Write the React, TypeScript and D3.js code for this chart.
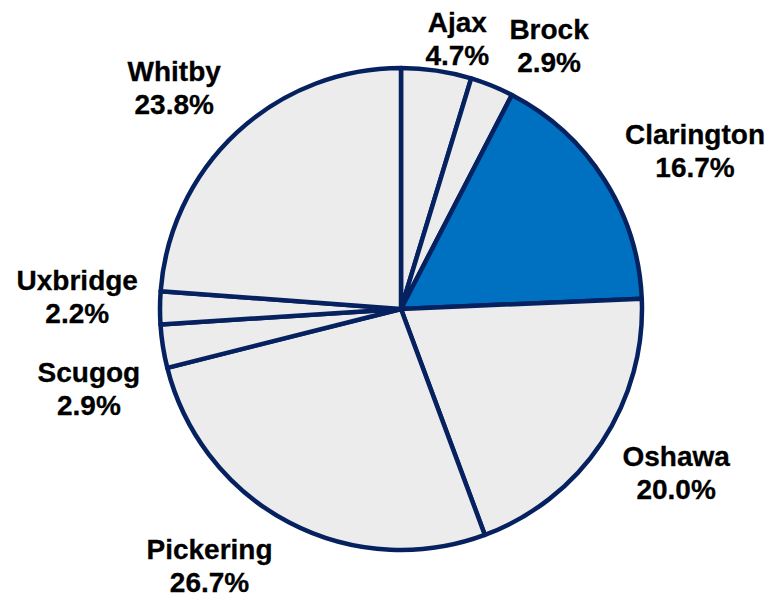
import * as d3 from "d3";
import * as React from "react";

const towns = ["Ajax", "Brock", "Clarington", "Oshawa", "Pickering", "Scugog", "Uxbridge", "Whitby"];
const shares = [4.7, 2.9, 16.7, 20.0, 26.7, 2.9, 2.2, 23.8];
const highlighted = "Clarington";

// label placement (distance from centre, angle nudge in degrees), like Excel's best fit
const labelRadius = [276, 302, 334, 320, 320, 322, 324, 317];
const labelNudge = [3.3, 7.2, 4.2, -2.9, 9.0, -5.3, 1.9, -2.8];

interface Slice {
  town: string;
  share: number;
}

export default function App() {
  const width = 773;
  const height = 597;
  const cx = 401;
  const cy = 309;
  const radius = 241;
  const lineGap = 33;

  const data: Slice[] = towns.map((town, i) => ({ town, share: shares[i] }));

  const pie = d3
    .pie<Slice>()
    .value((d) => d.share)
    .sort(null);
  const arcs = pie(data);

  const arc = d3.arc<d3.PieArcDatum<Slice>>().innerRadius(0).outerRadius(radius);

  return (
    <svg
      width={width}
      height={height}
      viewBox={`0 0 ${width} ${height}`}
      style={{ position: "absolute", left: 0, top: 0, background: "#fff" }}
    >
      <g transform={`translate(${cx},${cy})`}>
        {arcs.map((a) => (
          <path
            key={a.data.town}
            d={arc(a) ?? ""}
            fill={a.data.town === highlighted ? "#0070c0" : "#ececec"}
            stroke="#06215f"
            strokeWidth={4.5}
            strokeLinejoin="round"
          />
        ))}
        {arcs.map((a, i) => {
          const mid = (a.startAngle + a.endAngle) / 2 + (labelNudge[i] * Math.PI) / 180;
          const r = labelRadius[i];
          const x = r * Math.sin(mid);
          const y = -r * Math.cos(mid);
          const b1 = y - 6.5;
          return (
            <text
              key={a.data.town}
              x={x}
              y={b1}
              textAnchor="middle"
              fontFamily="'Liberation Sans', Arial, sans-serif"
              fontWeight="bold"
              fontSize={28}
              fill="#000"
              stroke="#000"
              strokeWidth={0.3}
            >
              <tspan x={x} y={b1}>
                {a.data.town}
              </tspan>
              <tspan x={x} y={b1 + lineGap}>
                {`${a.data.share.toFixed(1)}%`}
              </tspan>
            </text>
          );
        })}
      </g>
    </svg>
  );
}
